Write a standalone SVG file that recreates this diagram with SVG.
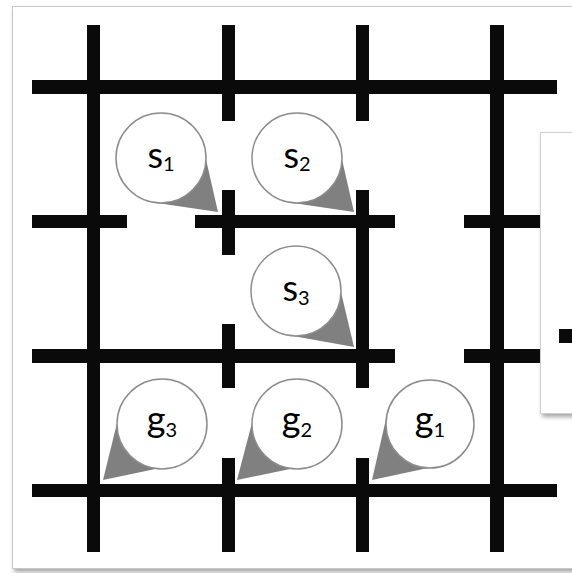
<svg xmlns="http://www.w3.org/2000/svg" width="572" height="573" viewBox="0 0 572 573">
  <defs>
    <filter id="sh" x="-5%" y="-5%" width="115%" height="115%">
      <feDropShadow dx="2" dy="3" stdDeviation="2" flood-color="#000" flood-opacity="0.35"/>
    </filter>
  </defs>
  <style>
    .ln { fill: #0a0a0a; }
    .tail { fill: #808080; }
    .bub { fill: #ffffff; stroke: #8c8c8c; stroke-width: 1.5; }
    .lbl { font-family: Lato, "Open Sans", sans-serif; font-size: 36px; fill: #000; text-anchor: middle; }
    .sub { font-size: 20px; }
  </style>
  <rect x="0" y="0" width="572" height="573" fill="#ffffff"/>
  <rect x="12.5" y="6.5" width="575" height="562" fill="#ffffff" stroke="#c8c8c8" stroke-width="1" filter="url(#sh)"/>

  <g id="grid">
    <!-- horizontal -->
    <rect class="ln" x="32" y="80" width="525" height="14"/>
    <rect class="ln" x="32" y="484" width="525" height="13"/>
    <rect class="ln" x="32" y="215" width="95" height="13"/>
    <rect class="ln" x="195" y="215" width="200" height="13"/>
    <rect class="ln" x="464" y="215" width="80" height="13"/>
    <rect class="ln" x="32" y="349" width="363" height="14"/>
    <rect class="ln" x="464" y="349" width="80" height="14"/>
    <!-- vertical -->
    <rect class="ln" x="87" y="25" width="13" height="527"/>
    <rect class="ln" x="490" y="25" width="14" height="527"/>
    <rect class="ln" x="222" y="25" width="13" height="96"/>
    <rect class="ln" x="222" y="190" width="13" height="65"/>
    <rect class="ln" x="222" y="324" width="13" height="64"/>
    <rect class="ln" x="222" y="458" width="13" height="94"/>
    <rect class="ln" x="356" y="25" width="13" height="96"/>
    <rect class="ln" x="356" y="190" width="13" height="198"/>
    <rect class="ln" x="356" y="458" width="13" height="94"/>
  </g>

  <g id="s1">
    <polygon class="tail" points="205,155 218,212 157,203"/>
    <circle class="bub" cx="161" cy="158" r="45"/>
    <text class="lbl" x="161" y="168">s<tspan class="sub" dy="3">1</tspan></text>
  </g>
  <g id="s2">
    <polygon class="tail" points="341,155 354,212 293,203"/>
    <circle class="bub" cx="297" cy="158" r="45"/>
    <text class="lbl" x="297" y="168">s<tspan class="sub" dy="3">2</tspan></text>
  </g>
  <g id="s3">
    <polygon class="tail" points="340,288 354,347 293,336"/>
    <circle class="bub" cx="296" cy="291" r="45"/>
    <text class="lbl" x="296" y="301">s<tspan class="sub" dy="4">3</tspan></text>
  </g>
  <g id="g3">
    <polygon class="tail" points="118,419 103,480 160,468"/>
    <circle class="bub" cx="162" cy="424" r="45"/>
    <text class="lbl" x="162" y="432">g<tspan class="sub" dy="5">3</tspan></text>
  </g>
  <g id="g2">
    <polygon class="tail" points="253,419 237,480 295,468"/>
    <circle class="bub" cx="297" cy="424" r="45"/>
    <text class="lbl" x="297" y="432">g<tspan class="sub" dy="5">2</tspan></text>
  </g>
  <g id="g1">
    <polygon class="tail" points="386,419 372,480 428,468"/>
    <circle class="bub" cx="430" cy="424" r="44"/>
    <text class="lbl" x="430" y="432">g<tspan class="sub" dy="5">1</tspan></text>
  </g>

  <g id="panel">
    <rect x="540.5" y="132.5" width="60" height="281" fill="#ffffff" stroke="#d0d0d0" stroke-width="1" filter="url(#sh)"/>
    <rect class="ln" x="559" y="329" width="14" height="14"/>
  </g>
</svg>
